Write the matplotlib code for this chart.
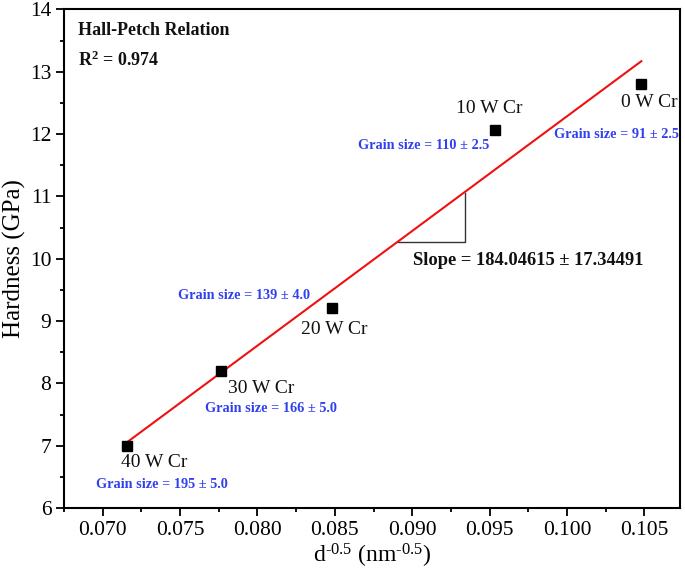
import matplotlib
matplotlib.use("Agg")
import matplotlib.pyplot as plt
from matplotlib.ticker import MultipleLocator, FormatStrFormatter

plt.rcParams['font.family'] = ['Liberation Serif', 'DejaVu Serif']
plt.rcParams['mathtext.fontset'] = 'custom'
plt.rcParams['mathtext.rm'] = 'Liberation Serif'
plt.rcParams['mathtext.it'] = 'Liberation Serif:italic'
plt.rcParams['mathtext.bf'] = 'Liberation Serif:bold'

# data
samples = ["40 W Cr", "30 W Cr", "20 W Cr", "10 W Cr", "0 W Cr"]
d_inv_sqrt = [0.07160, 0.07762, 0.08484, 0.09532, 0.10480]
hardness = [7.00, 8.20, 9.21, 12.07, 12.80]
grain_labels = ["Grain size = 195 ± 5.0", "Grain size = 166 ± 5.0",
                "Grain size = 139 ± 4.0", "Grain size = 110 ± 2.5",
                "Grain size = 91 ± 2.5"]
fit_x = [0.0716, 0.1048]
fit_y = [7.06, 13.17]
tri_x = [0.08906, 0.09338, 0.09338]
tri_y = [10.27, 10.27, 11.05]

# label positions
sample_pos = [(0.07336, 6.73), (0.08027, 7.91), (0.08499, 8.87), (0.09495, 12.41), (0.10529, 12.50)]
grain_pos = [(0.07381, 6.37), (0.08085, 7.59), (0.07911, 9.41), (0.09075, 11.82), (0.10320, 12.00)]

fig = plt.figure(figsize=(6.85, 5.75), dpi=100)
ax = fig.add_axes([0.0934, 0.1165, 0.8993, 0.8670])

ax.plot(fit_x, fit_y, color='#f01010', lw=1.5, zorder=2)
ax.plot(tri_x, tri_y, color='#333333', lw=1.0, zorder=1)
ax.plot(d_inv_sqrt, hardness, 's', color='black', ms=7, zorder=3)

for s, (x, y) in zip(samples, sample_pos):
    ax.text(x, y, s, ha='center', va='center', fontsize=14, color='#111111')
for g, (x, y) in zip(grain_labels, grain_pos):
    ax.text(x, y, g, ha='center', va='center', fontsize=10.3, color='#3040ee', fontweight='bold')

ax.text(0.09752, 9.97, "Slope = 184.04615 ± 17.34491", ha='center', va='center',
        fontsize=13.3, fontweight='bold', color='#111111')
ax.text(0.06839, 13.67, "Hall-Petch Relation", ha='left', va='center', fontsize=13,
        fontweight='bold', color='#111111')
ax.text(0.06839, 13.18, r"R$^\mathbf{2}$ = 0.974", ha='left', va='center', fontsize=13,
        fontweight='bold', color='#111111')

ax.set_xlim(0.0675, 0.1073)
ax.set_ylim(6, 14)
ax.xaxis.set_major_locator(MultipleLocator(0.005))
ax.xaxis.set_minor_locator(MultipleLocator(0.0025))
ax.yaxis.set_major_locator(MultipleLocator(1))
ax.yaxis.set_minor_locator(MultipleLocator(0.5))
ax.xaxis.set_major_formatter(FormatStrFormatter('%.3f'))
ax.tick_params(which='major', direction='out', length=5.5, width=1.3, labelsize=15.5)
ax.tick_params(which='minor', direction='out', length=3, width=1.3)
for sp in ax.spines.values():
    sp.set_linewidth(1.5)

ax.set_xlabel(r"d$^{\text{-0.5}}$ (nm$^{\text{-0.5}}$)", fontsize=17, labelpad=2)
ax.set_ylabel("Hardness (GPa)", fontsize=18, labelpad=3)

fig.savefig("out.png", dpi=100)
